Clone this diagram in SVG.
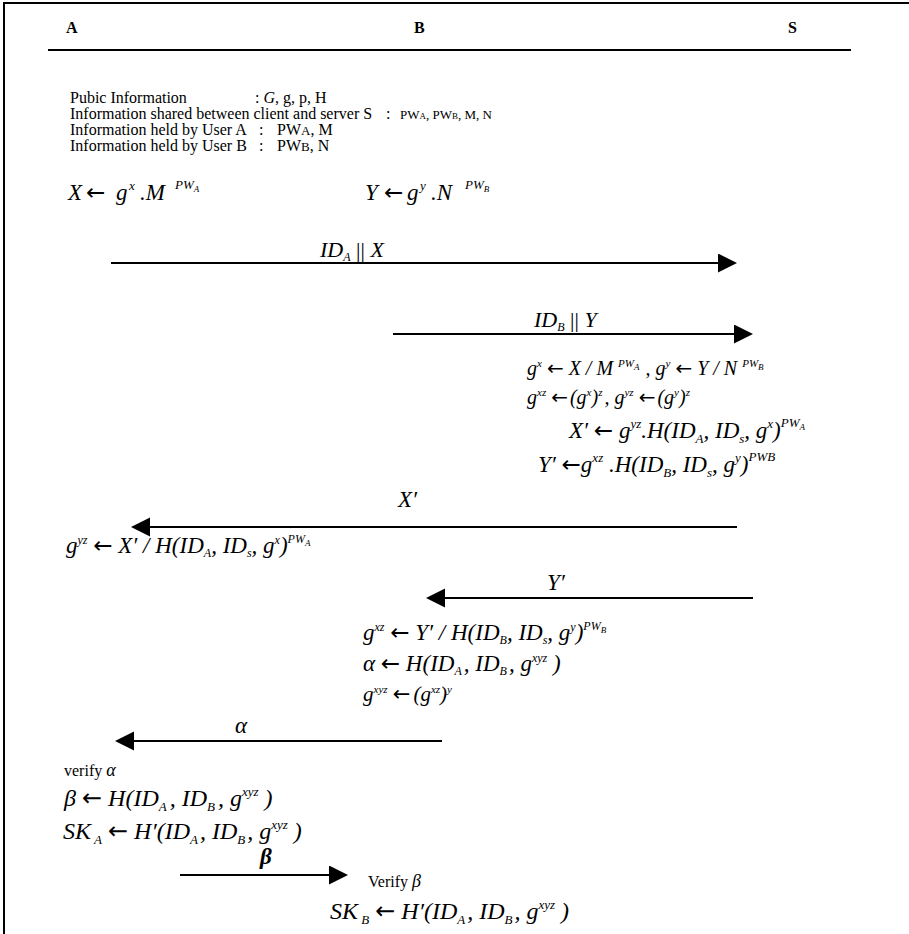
<svg xmlns="http://www.w3.org/2000/svg" width="909" height="934" viewBox="0 0 909 934">
<style>
text { font-family: "Liberation Serif", "Times New Roman", serif; fill: #000; }
.h { font-weight: bold; font-size: 16px; }
.i { font-size: 16px; }
.s { font-size: 13px; }
.sb { font-size: 9px; }
.m { font-style: italic; font-size: 21px; }
.ar { font-family: "DejaVu Sans", sans-serif; font-style: normal; }
.n { font-style: normal; }
.sp { font-size: 12px; }
.sm { font-size: 11px; }
.sl { font-size: 13px; }
.ss { font-size: 9px; }
.bb { font-weight: bold; font-style: italic; font-size: 23px; }
.ln { stroke: #000; stroke-width: 2; fill: none; }
</style>
<defs>
<marker id="ah" markerUnits="userSpaceOnUse" markerWidth="20" markerHeight="20" refX="0" refY="9.5" orient="auto">
<path d="M0,0 L19,9.5 L0,19 z" fill="#000"/>
</marker>
</defs>
<rect width="909" height="934" fill="#fff"/>
<g id="frame">
<polyline points="4,934 4,3 909,3" class="ln"/>
<line x1="48" y1="50" x2="851" y2="50" stroke="#000" stroke-width="2"/>
</g>
<g id="header">
<text class="h" x="66" y="33">A</text>
<text class="h" x="414" y="33">B</text>
<text class="h" x="788" y="33">S</text>
</g>
<g id="info">
<text class="i" x="70" y="103">Pubic Information</text>
<text class="i" x="255" y="103">:  <tspan font-style="italic">G</tspan>, g, p, H</text>
<text class="i" x="70" y="119">Information shared between client and server S</text>
<text class="i" x="386" y="119">:</text>
<text class="s" x="400" y="119">PW<tspan class="sb">A</tspan>, PW<tspan class="sb">B</tspan>, M, N</text>
<text class="i" x="70" y="135">Information held by User A</text>
<text class="i" x="259" y="135">:</text>
<text class="i" x="277" y="135">PW<tspan class="s">A</tspan>, M</text>
<text class="i" x="70" y="151">Information held by User B</text>
<text class="i" x="259" y="151">:</text>
<text class="i" x="277" y="151">PW<tspan class="s">B</tspan>, N</text>
</g>
<g id="nodeA1">
<text class="m" style="font-size:23px" y="200"><tspan x="68">X</tspan><tspan class="ar" x="86">←</tspan><tspan x="116">g</tspan><tspan class="sl" x="129" dy="-10">x</tspan><tspan x="140" dy="10">.M</tspan><tspan class="sl" x="175" dy="-11">PW</tspan><tspan class="ss" dy="3">A</tspan></text>
</g>
<g id="nodeB1">
<text class="m" style="font-size:23px" y="200"><tspan x="365">Y</tspan><tspan class="ar" x="384">←</tspan><tspan x="407">g</tspan><tspan class="sl" x="420" dy="-10">y</tspan><tspan x="431" dy="10">.N</tspan><tspan class="sl" x="465" dy="-11">PW</tspan><tspan class="ss" dy="3">B</tspan></text>
</g>
<g id="nodeS1">
<text class="m" style="font-size:20px" x="527" y="375">g<tspan class="sm" dy="-8">x</tspan><tspan dy="8"> </tspan><tspan class="ar">←</tspan> X / M <tspan class="sm" dy="-8">PW</tspan><tspan class="ss" dy="3">A</tspan><tspan dx="6" dy="5">, g</tspan><tspan class="sm" dy="-8">y</tspan><tspan dy="8"> </tspan><tspan class="ar">←</tspan> Y / N <tspan class="sm" dy="-8">PW</tspan><tspan class="ss" dy="3">B</tspan></text>
<text class="m" style="font-size:20px" x="527" y="404">g<tspan class="sm" dy="-8">xz</tspan><tspan dy="8"> </tspan><tspan class="ar">←</tspan><tspan dx="2">(g</tspan><tspan class="sm" dy="-8">x</tspan><tspan dy="8">)</tspan><tspan class="sm" dy="-8">z</tspan><tspan dx="2" dy="8">, g</tspan><tspan class="sm" dy="-8">yz</tspan><tspan dy="8"> </tspan><tspan class="ar">←</tspan><tspan dx="2">(g</tspan><tspan class="sm" dy="-8">y</tspan><tspan dy="8">)</tspan><tspan class="sm" dy="-8">z</tspan></text>
<text class="m" style="font-size:23px" x="569" y="438">X′ <tspan class="ar">←</tspan> g<tspan class="sl" dy="-10">yz</tspan><tspan dy="10">.H(ID</tspan><tspan class="sl" dy="5">A</tspan><tspan dy="-5">, ID</tspan><tspan class="sl" dy="5">s</tspan><tspan dy="-5">, g</tspan><tspan class="sl" dy="-10">x</tspan><tspan dy="10">)</tspan><tspan class="sl" dy="-11">PW</tspan><tspan class="ss" dy="3">A</tspan></text>
<text class="m" style="font-size:23px" x="538" y="472">Y′ <tspan class="ar">←</tspan>g<tspan class="sl" dy="-10">xz</tspan><tspan dy="10"> .H(ID</tspan><tspan class="sl" dy="5">B</tspan><tspan dy="-5">, ID</tspan><tspan class="sl" dy="5">s</tspan><tspan dy="-5">, g</tspan><tspan class="sl" dy="-10">y</tspan><tspan dy="10">)</tspan><tspan class="sl" dy="-11">PWB</tspan></text>
</g>
<g id="nodeA2">
<text class="m" style="font-size:23px" x="66" y="553">g<tspan class="sp" dy="-9">yz</tspan><tspan dy="9"> </tspan><tspan class="ar">←</tspan> X′ / H(ID<tspan class="sp" dy="4">A</tspan><tspan dy="-4">, ID</tspan><tspan class="sp" dy="4">s</tspan><tspan dy="-4">, g</tspan><tspan class="sp" dy="-9">x</tspan><tspan dy="9">)</tspan><tspan class="sp" dy="-10">PW</tspan><tspan class="ss" dy="3">A</tspan></text>
</g>
<g id="nodeB2">
<text class="m" style="font-size:23px" x="363" y="640">g<tspan class="sp" dy="-9">xz</tspan><tspan dy="9"> </tspan><tspan class="ar">←</tspan> Y′ / H(ID<tspan class="sp" dy="4">B</tspan><tspan dy="-4">, ID</tspan><tspan class="sp" dy="4">s</tspan><tspan dy="-4">, g</tspan><tspan class="sp" dy="-9">y</tspan><tspan dy="9">)</tspan><tspan class="sp" dy="-10">PW</tspan><tspan class="ss" dy="3">B</tspan></text>
<text class="m" style="font-size:23px" x="363" y="671">α <tspan class="ar">←</tspan> H(ID<tspan class="sp" dy="4">A</tspan><tspan dx="2" dy="-4">, ID</tspan><tspan class="sp" dy="4">B</tspan><tspan dx="2" dy="-4">, g</tspan><tspan class="sp" dy="-9">xyz</tspan><tspan dy="9"> )</tspan></text>
<text class="m" style="font-size:21px" x="363" y="701">g<tspan class="sm" dy="-8">xyz</tspan><tspan dy="8"> </tspan><tspan class="ar">←</tspan><tspan dx="3">(g</tspan><tspan class="sm" dy="-8">xz</tspan><tspan dy="8">)</tspan><tspan class="sm" dy="-8">y</tspan></text>
</g>
<g id="nodeA3">
<text class="i" x="64" y="776">verify <tspan font-style="italic" style="font-size:18px">α</tspan></text>
<text class="m" style="font-size:24px" x="64" y="806">β <tspan class="ar">←</tspan> H(ID<tspan class="sl" dy="5">A</tspan><tspan dx="3" dy="-5">, ID</tspan><tspan class="sl" dy="5">B</tspan><tspan dx="3" dy="-5">, g</tspan><tspan class="sl" dy="-10">xyz</tspan><tspan dy="10"> )</tspan></text>
<text class="m" style="font-size:24px" x="63" y="839">SK<tspan class="sl" dy="5"> A</tspan><tspan dy="-5"> </tspan><tspan class="ar">←</tspan> H′(ID<tspan class="sl" dy="5">A</tspan><tspan dx="2" dy="-5">, ID</tspan><tspan class="sl" dy="5">B</tspan><tspan dx="2" dy="-5">, g</tspan><tspan class="sl" dy="-10">xyz</tspan><tspan dy="10"> )</tspan></text>
</g>
<g id="nodeB3">
<text class="i" x="368" y="887">Verify <tspan font-style="italic" style="font-size:18px">β</tspan></text>
<text class="m" style="font-size:24px" x="330" y="919">SK<tspan class="sl" dy="5"> B</tspan><tspan dy="-5"> </tspan><tspan class="ar">←</tspan> H′(ID<tspan class="sl" dy="5">A</tspan><tspan dx="2" dy="-5">, ID</tspan><tspan class="sl" dy="5">B</tspan><tspan dx="2" dy="-5">, g</tspan><tspan class="sl" dy="-10">xyz</tspan><tspan dy="10"> )</tspan></text>
</g>
<g id="connectors">
<line class="ln" x1="111" y1="263" x2="718" y2="263" marker-end="url(#ah)"/>
<line class="ln" x1="393" y1="334" x2="734" y2="334" marker-end="url(#ah)"/>
<line class="ln" x1="737" y1="527" x2="150" y2="527" marker-end="url(#ah)"/>
<line class="ln" x1="753" y1="598" x2="445" y2="598" marker-end="url(#ah)"/>
<line class="ln" x1="442" y1="741" x2="134" y2="741" marker-end="url(#ah)"/>
<line class="ln" x1="180" y1="875" x2="329" y2="875" marker-end="url(#ah)"/>
</g>
<g id="labels">
<text class="m" style="font-size:22px" x="320" y="257">ID<tspan class="sp" dy="4">A</tspan><tspan class="n" dy="-4"> || </tspan>X</text>
<text class="m" style="font-size:22px" x="534" y="327">ID<tspan class="sp" dy="4">B</tspan><tspan class="n" dy="-4"> || </tspan>Y</text>
<text class="m" style="font-size:23px" x="398" y="507">X′</text>
<text class="m" style="font-size:23px" x="547" y="590">Y′</text>
<text class="m" style="font-size:23px" x="235" y="733">α</text>
<text class="bb" x="260" y="864">β</text>
</g>
</svg>
